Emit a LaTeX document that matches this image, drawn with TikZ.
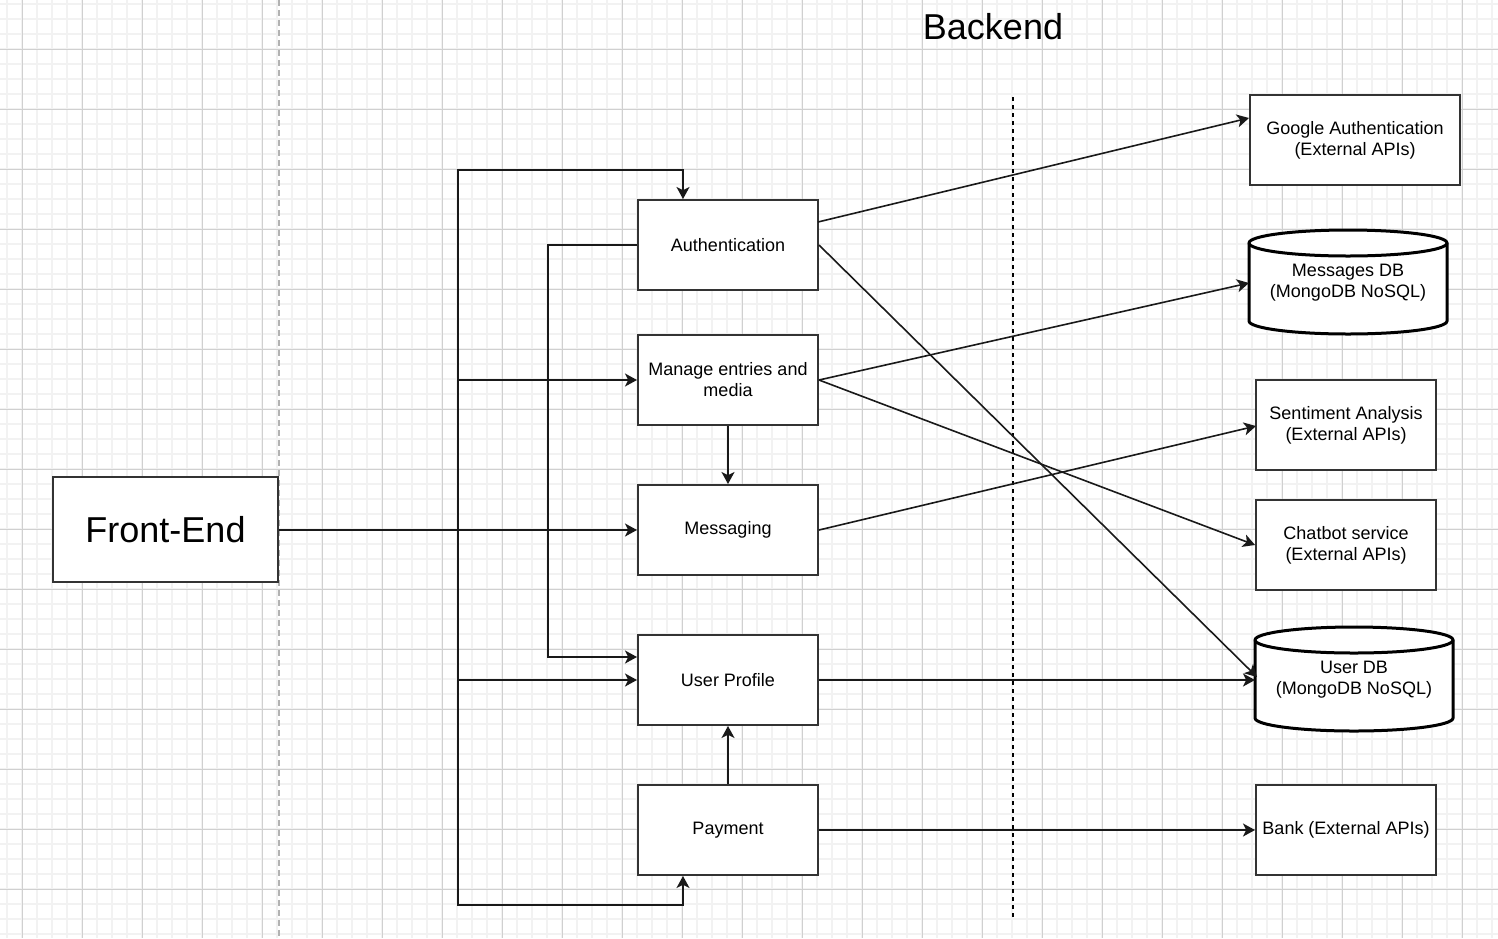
\documentclass[tikz,border=0pt]{standalone}
\usepackage{fontspec}
\setmainfont{Liberation Sans}
\usetikzlibrary{arrows.meta}
\definecolor{minorgrid}{HTML}{F2F2F2}
\definecolor{majorgrid}{HTML}{D0D0D0}
\definecolor{boxline}{HTML}{333333}
\begin{document}
\begin{tikzpicture}[x=0.5pt,y=-0.5pt,
  box/.style={draw=boxline,line width=1pt,fill=white,minimum width=90pt,minimum height=45pt,align=center,font=\fontsize{9pt}{10.5pt}\selectfont,inner sep=1pt},
  dbtext/.style={align=center,font=\fontsize{9pt}{10.5pt}\selectfont,minimum width=99pt,minimum height=52pt,inner sep=0pt},
  conn/.style={draw=black!90,line width=0.8pt,-{Stealth[length=6pt,width=6.5pt,inset=1.6pt]}},
  plainconn/.style={draw=black!90,line width=0.8pt}]
\useasboundingbox (0,0) rectangle (1498,938);
\fill[white] (0,0) rectangle (1498,938);
% grid
\foreach \x in {7,22,...,1497} \draw[minorgrid,line width=0.6pt] (\x,0) -- (\x,938);
\foreach \y in {4,19,...,937} \draw[minorgrid,line width=0.6pt] (0,\y) -- (1498,\y);
\foreach \x in {22,82,...,1497} \draw[majorgrid,line width=0.5pt] (\x,0) -- (\x,938);
\foreach \y in {49,109,...,937} \draw[majorgrid,line width=0.5pt] (0,\y) -- (1498,\y);
% separators
\draw[black!30,line width=1pt,dash pattern=on 3pt off 2pt] (279,0) -- (279,938);
\draw[black,line width=0.75pt,dash pattern=on 2pt off 2pt] (1013,97) -- (1013,920);
\node[font=\fontsize{18pt}{20pt}\selectfont] (backend) at (993,27) {Backend};
% nodes
\node[box,minimum width=112.5pt,minimum height=52.5pt,font=\fontsize{18pt}{20pt}\selectfont] (fe) at (165.5,529.5) {Front-End};
\node[box] (auth) at (728,245) {Authentication};
\node[box] (manage) at (728,380) {Manage entries and\\media};
\node[box] (msg) at (728,530) {Messaging};
\node[box] (profile) at (728,680) {User Profile};
\node[box] (pay) at (728,830) {Payment};
\node[box,minimum width=105pt] (google) at (1355,140) {Google Authentication\\(External APIs)};
\node[box] (senti) at (1346,425) {Sentiment Analysis\\(External APIs)};
\node[box] (chat) at (1346,545) {Chatbot service\\(External APIs)};
\node[box] (bank) at (1346,830) {Bank (External APIs)};
% cylinders (y axis points down: angle 90 is below the centre)
\draw[black,line width=1.5pt,fill=white] (1249,243) -- (1249,321) arc[start angle=180,end angle=0,x radius=99,y radius=13] -- (1447,243) arc[start angle=0,end angle=-180,x radius=99,y radius=13] -- cycle;
\draw[black,line width=1.5pt] (1249,243) arc[start angle=180,end angle=0,x radius=99,y radius=13];
\node[dbtext] (msgdb) at (1348,283) {Messages DB\\(MongoDB NoSQL)};
\draw[black,line width=1.5pt,fill=white] (1255,640) -- (1255,718) arc[start angle=180,end angle=0,x radius=99,y radius=13] -- (1453,640) arc[start angle=0,end angle=-180,x radius=99,y radius=13] -- cycle;
\draw[black,line width=1.5pt] (1255,640) arc[start angle=180,end angle=0,x radius=99,y radius=13];
\node[dbtext] (userdb) at (1354,680) {User DB\\(MongoDB NoSQL)};
% trunk coordinates
\coordinate (tj) at (458,530);
\coordinate (ttop) at (458,170);
\coordinate (tbot) at (458,905);
\coordinate (ta) at (683,170);
\coordinate (tp) at (683,905);
\coordinate (l1) at (548,245);
\coordinate (l2) at (548,657);
% front-end connectors
\path[plainconn] (fe.east |- tj) -- (tj);
\path[conn] (tj) -- (msg.west);
\path[conn] (tj) -- (ttop) -- (ta) -- (ta |- auth.north);
\path[conn] (tj |- manage.west) -- (manage.west);
\path[conn] (tj |- profile.west) -- (profile.west);
\path[conn] (tj) -- (tbot) -- (tp) -- (tp |- pay.south);
% inner connectors
\path[conn] (auth.west) -- (l1) -- (l2) -- (l2 -| profile.west);
\path[conn] (manage.south) -- (msg.north);
\path[conn] (pay.north) -- (profile.south);
% to backend services
\coordinate (as) at (818,222);
\coordinate (ge) at (1249,118);
\coordinate (ude) at (1257,677);
\coordinate (mde) at (1249,283);
\coordinate (udl) at (1255,680);
\coordinate (se) at (1256,426);
\path[conn] (as) -- (ge);
\path[conn] (auth.east) -- (ude);
\path[conn] (manage.east) -- (mde);
\path[conn] (manage.east) -- (chat.west);
\path[conn] (msg.east) -- (se);
\path[conn] (profile.east) -- (udl);
\path[conn] (pay.east) -- (bank.west);
\end{tikzpicture}
\end{document}
